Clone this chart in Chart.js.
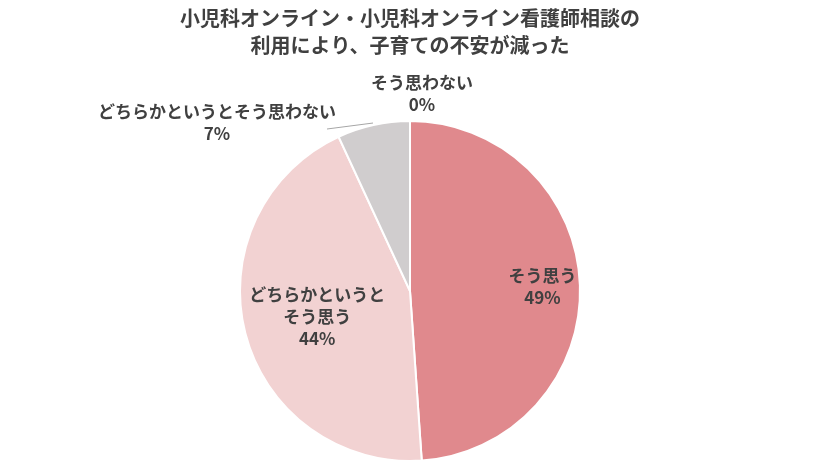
<!DOCTYPE html>
<html>
<head>
<meta charset="utf-8">
<script src="https://cdn.jsdelivr.net/npm/chart.js"></script>
<style>
  html, body { margin: 0; padding: 0; background: #fff; }
  #wrap { width: 822px; height: 469px; }
</style>
</head>
<body>
<div id="wrap"><canvas id="chart"></canvas></div>
<script>
const titleLines = ["小児科オンライン・小児科オンライン看護師相談の", "利用により、子育ての不安が減った"];
const categories = ["そう思う", "どちらかというとそう思う", "どちらかというとそう思わない", "そう思わない"];
const labelLines = [["そう思う"], ["どちらかというと", "そう思う"], ["どちらかというとそう思わない"], ["そう思わない"]];
const values = [48.9, 44.2, 6.9, 0];
const percentLabels = ["49%", "44%", "7%", "0%"];
const colors = ["#E0898D", "#F2D2D2", "#D0CDCE", "#A6A6A6"];

const textColor = "#404040";
const font = '"Noto Sans CJK JP", "Noto Sans", sans-serif';

// label placement: inside -> radial fraction + nudge; outside -> offset from arc centre
const labelStyle = [
  { inside: true, r: 0.78, dx: 0, dy: 0 },
  { inside: true, r: 0.6, dx: 6, dy: 0 },
  { inside: false, ox: -193, oy: -168, leader: [-83, -162] },
  { inside: false, ox: 12, oy: -197 }
];

const labelsPlugin = {
  id: "pieLabels",
  afterDraw(chart) {
    const ctx = chart.ctx;
    const meta = chart.getDatasetMeta(0);
    ctx.save();
    ctx.fillStyle = textColor;
    ctx.textAlign = "center";
    ctx.textBaseline = "middle";
    ctx.font = "bold 20px " + font;
    ctx.fillText(titleLines[0], 410, 18);
    ctx.fillText(titleLines[1], 410, 45);

    ctx.font = "bold 17px " + font;
    meta.data.forEach((arc, i) => {
      const st = labelStyle[i];
      const cx = arc.x, cy = arc.y, R = arc.outerRadius;
      const mid = (arc.startAngle + arc.endAngle) / 2;
      const lines = labelLines[i].concat([percentLabels[i]]);
      let x, y;
      if (st.inside) {
        x = cx + Math.cos(mid) * R * st.r + st.dx;
        y = cy + Math.sin(mid) * R * st.r + st.dy;
      } else {
        x = cx + st.ox;
        y = cy + st.oy;
        if (st.leader) {
          ctx.strokeStyle = "#A6A6A6";
          ctx.lineWidth = 1;
          ctx.beginPath();
          ctx.moveTo(cx + Math.cos(mid) * (R + 2), cy + Math.sin(mid) * (R + 2));
          ctx.lineTo(cx + st.leader[0], cy + st.leader[1]);
          ctx.stroke();
        }
      }
      const lh = 22;
      const top = y - (lines.length - 1) * lh / 2;
      lines.forEach((t, k) => ctx.fillText(t, x, top + k * lh));
    });
    ctx.restore();
  }
};

new Chart(document.getElementById("chart"), {
  type: "pie",
  data: {
    labels: categories,
    datasets: [{
      data: values,
      backgroundColor: colors,
      borderColor: "#ffffff",
      borderWidth: 2
    }]
  },
  options: {
    responsive: true,
    maintainAspectRatio: false,
    animation: false,
    layout: { padding: { top: 120, bottom: 7, left: 239, right: 241 } },
    plugins: {
      legend: { display: false },
      tooltip: { enabled: false },
      title: { display: false }
    }
  },
  plugins: [labelsPlugin]
});
</script>
</body>
</html>
